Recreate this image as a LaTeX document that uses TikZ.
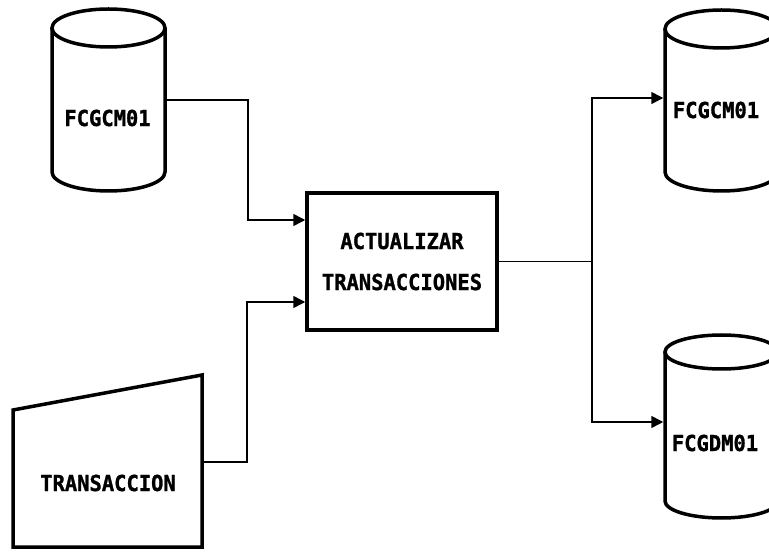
\documentclass[tikz,border=0pt]{standalone}
\usepackage{fontspec}
\newfontfamily\pixfont[FakeBold=1.2,FakeStretch=0.93]{DejaVu Sans Mono Bold}
\usetikzlibrary{arrows.meta}
\begin{document}
\begin{tikzpicture}[x=1pt,y=1pt,
  outl/.style={line width=3.5pt},
  conn/.style={line width=1.5pt},
  arr/.style={conn,-{Triangle[length=12pt,width=12pt]}},
  lbl/.style={font=\pixfont\fontsize{22}{25}\selectfont, inner sep=0},
  body/.style={draw=none, inner sep=0, outer sep=1.75pt, rectangle},
  procbox/.style={draw, rectangle, line width=3.5pt, inner sep=0, align=center,
    font=\pixfont\fontsize{22}{41}\selectfont}]
\useasboundingbox (0,0) rectangle (769,552);
\clip (0,0) rectangle (769,552);
\fill[white] (0,0) rectangle (769,552);

% left cylinder
\draw[outl] (52,524) -- (52,380) arc[start angle=180,end angle=360,x radius=56.5,y radius=19] -- (165,524);
\draw[outl] (108.5,524) ellipse[x radius=56.5,y radius=19];
\node[body, minimum width=113pt, minimum height=144pt] (db1) at (108.5,452) {};
\node[lbl] (db1t) at (107.5,434) {FCGCM01};

% top right cylinder
\draw[outl] (665,523) -- (665,380) arc[start angle=180,end angle=360,x radius=56.5,y radius=19] -- (778,523);
\draw[outl] (721.5,523) ellipse[x radius=56.5,y radius=19];
\node[body, minimum width=113pt, minimum height=143pt] (db2) at (721.5,451.5) {};
\node[lbl] (db2t) at (716,442) {FCGCM01};

% bottom right cylinder
\draw[outl] (665,200) -- (665,51) arc[start angle=180,end angle=360,x radius=56.5,y radius=17] -- (778,200);
\draw[outl] (721.5,200) ellipse[x radius=56.5,y radius=17];
\node[body, minimum width=113pt, minimum height=149pt] (db3) at (721.5,125.5) {};
\node[lbl] (db3t) at (715,109) {FCGDM01};

% process box
\node[procbox, minimum width=190pt, minimum height=137pt] (act) at (402,290.5) {ACTUALIZAR\\TRANSACCIONES};

% manual input (trapezoid)
\draw[outl, line join=miter] (13,142) -- (202,177) -- (202,5) -- (13,5) -- cycle;
\node[body, minimum width=189pt, minimum height=137pt] (trans) at (107.5,73.5) {};
\node[lbl] (transt) at (108,69) {TRANSACCION};

% connectors
\draw[arr] (db1.east) -- ++(81,0) |- ([yshift=41.5pt]act.west);
\draw[arr] ([yshift=16.5pt]trans.east) -- ++(43,0) |- ([yshift=-40.5pt]act.west);
\draw[conn] (act.east) -- ++(93,0) coordinate (split);
\draw[arr] (split) |- ([yshift=2.5pt]db2.west);
\draw[arr] (split) |- ([yshift=4.5pt]db3.west);
\end{tikzpicture}
\end{document}
